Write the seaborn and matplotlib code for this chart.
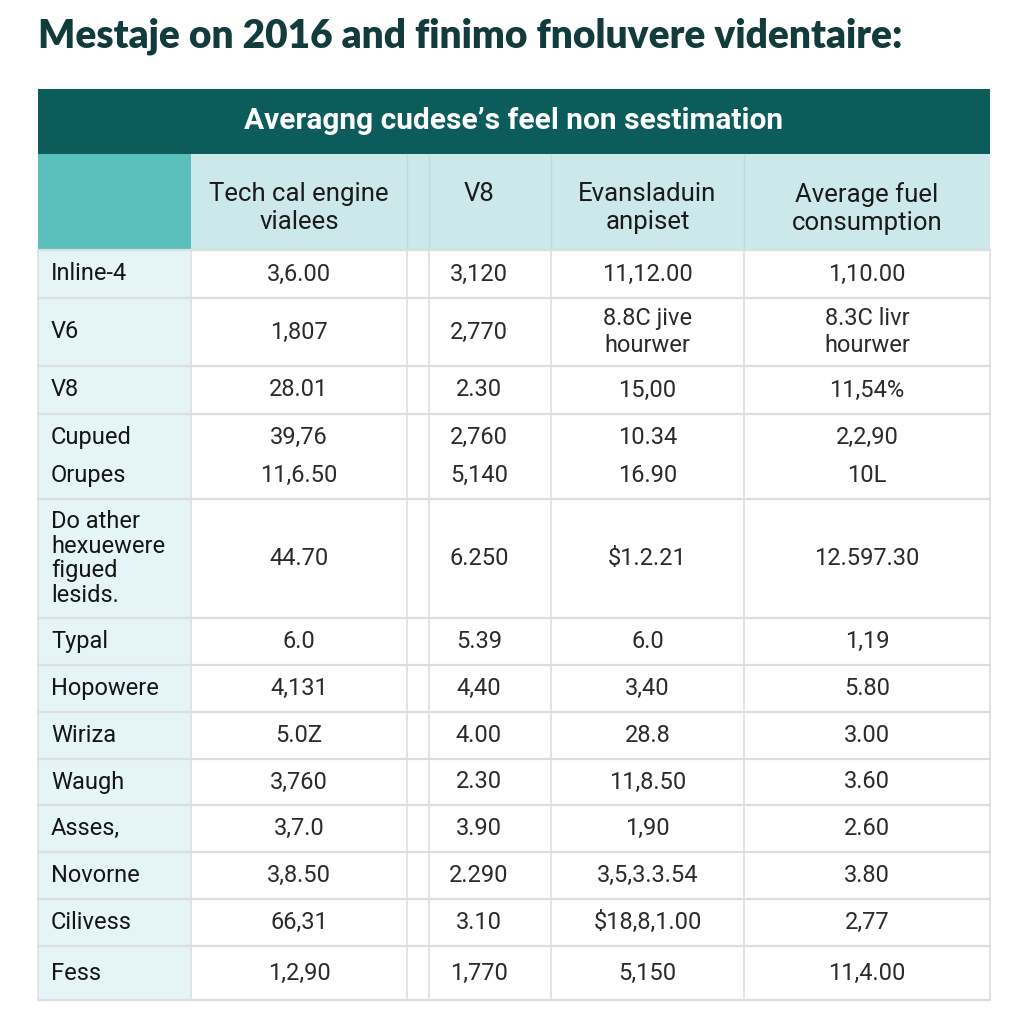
import matplotlib
matplotlib.use("Agg")
import matplotlib.pyplot as plt
import matplotlib.patches as mpatches
import seaborn as sns

# table content (text as shown in the picture)
title = "Mestaje on 2016 and finimo fnoluvere videntaire:"
band_title = "Averagng cudese\u2019s feel non sestimation"
col_headers = ["Tech cal engine\nvialees", "V8", "Evansladuin\nanpiset", "Average fuel\nconsumption"]
row_labels = ["Inline-4", "V6", "V8", "Cupued\nOrupes", "Do ather\nhexuewere\nfigued\nlesids.",
              "Typal", "Hopowere", "Wiriza", "Waugh", "Asses,", "Novorne", "Cilivess", "Fess"]
col1 = ["3,6.00", "1,807", "28.01", "39,76\n11,6.50", "44.70", "6.0", "4,131", "5.0Z",
        "3,760", "3,7.0", "3,8.50", "66,31", "1,2,90"]
col2 = ["3,120", "2,770", "2.30", "2,760\n5,140", "6.250", "5.39", "4,40", "4.00",
        "2.30", "3.90", "2.290", "3.10", "1,770"]
col3 = ["11,12.00", "8.8C jive\nhourwer", "15,00", "10.34\n16.90", "$1.2.21", "6.0", "3,40", "28.8",
        "11,8.50", "1,90", "3,5,3.3.54", "$18,8,1.00", "5,150"]
col4 = ["1,10.00", "8.3C livr\nhourwer", "11,54%", "2,2,90\n10L", "12.597.30", "1,19", "5.80", "3.00",
        "3.60", "2.60", "3.80", "2,77", "11,4.00"]

# layout in pixels
col_edges = [38, 191, 407, 429, 551, 744, 990]
text_spans = [(191, 407), (407, 551), (551, 744), (744, 990)]
row_edges = [250, 298, 366, 414, 499, 618, 665, 712, 759, 805, 852, 899, 946, 1000]

sns.set_theme(style="white")
plt.rcParams["font.family"] = ["Roboto", "DejaVu Sans"]

fig = plt.figure(figsize=(10.24, 10.24), dpi=100)
ax = fig.add_axes([0, 0, 1, 1])
ax.set_xlim(0, 1024)
ax.set_ylim(1024, 0)
ax.axis("off")

teal_dark = "#0b5c5b"
teal_mid = "#5bc0bc"
head_light = "#cde8eb"
label_bg = "#e5f4f6"
grid = "#dcdfe0"

ax.text(38, 36, title, fontsize=28, fontweight="heavy", color="#123b3c",
        va="center", ha="left", family=["Lato", "DejaVu Sans"])

left, right = col_edges[0], col_edges[-1]
ax.add_patch(mpatches.Rectangle((left, 89), right - left, 65, color=teal_dark, lw=0))
ax.text((left + right) / 2, 121, band_title, fontsize=21.5, fontweight="bold",
        color="white", ha="center", va="center")

# header row
ax.add_patch(mpatches.Rectangle((left, 154), col_edges[1] - left, 96, color=teal_mid, lw=0))
ax.add_patch(mpatches.Rectangle((col_edges[1], 154), right - col_edges[1], 96, color=head_light, lw=0))
for x in col_edges[2:-1]:
    ax.plot([x, x], [154, 250], color="#bddcdf", lw=1)
for (a, b), h in zip(text_spans, col_headers):
    ax.text((a + b) / 2, 182, h, fontsize=18.5, color="#1a1a1a", ha="center", va="top", linespacing=1.2)

# body
top, bottom = row_edges[0], row_edges[-1]
ax.add_patch(mpatches.Rectangle((left, top), col_edges[1] - left, bottom - top, color=label_bg, lw=0))
for y in row_edges:
    ax.plot([left, right], [y, y], color=grid, lw=1.6)
for x in col_edges:
    ax.plot([x, x], [top, bottom], color=grid, lw=1.2)

columns = [col1, col2, col3, col4]
for i, label in enumerate(row_labels):
    y0, y1 = row_edges[i], row_edges[i + 1]
    yc = (y0 + y1) / 2
    ls = 1.85 if i == 3 else (1.25 if i == 1 else 1.1)
    ax.text(51, yc, label, fontsize=17, color="#151515", ha="left", va="center", linespacing=ls)
    for (a, b), col in zip(text_spans, columns):
        ax.text((a + b) / 2, yc, col[i], fontsize=17, color="#2b2b2b",
                ha="center", va="center", linespacing=ls)

fig.savefig("out.png", dpi=100, facecolor="white")
